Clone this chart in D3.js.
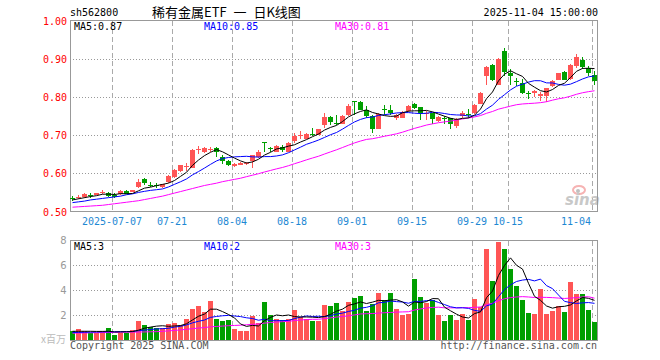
<!DOCTYPE html>
<html><head><meta charset="utf-8">
<script src="https://cdn.jsdelivr.net/npm/d3@7"></script>
<style>body{margin:0;background:#fff}svg{display:block}</style>
</head><body><svg id="c" width="660" height="360"></svg>
<script>
// ---------- data ----------
const dates=["06-26","06-27","06-30","07-01","07-02","07-03","07-04","07-07","07-08","07-09","07-10","07-11","07-14","07-15","07-16","07-17","07-18","07-21","07-22","07-23","07-24","07-25","07-28","07-29","07-30","07-31","08-01","08-04","08-05","08-06","08-07","08-08","08-11","08-12","08-13","08-14","08-15","08-18","08-19","08-20","08-21","08-22","08-25","08-26","08-27","08-28","08-29","09-01","09-02","09-03","09-04","09-05","09-08","09-09","09-10","09-11","09-12","09-15","09-16","09-17","09-18","09-19","09-22","09-23","09-24","09-25","09-26","09-29","09-30","10-09","10-10","10-13","10-14","10-15","10-16","10-17","10-20","10-21","10-22","10-23","10-24","10-27","10-28","10-29","10-30","10-31","11-03","11-04"];
const open=[0.534,0.533,0.537,0.543,0.542,0.548,0.548,0.542,0.545,0.553,0.551,0.562,0.583,0.569,0.567,0.562,0.575,0.588,0.604,0.615,0.614,0.660,0.655,0.661,0.665,0.643,0.630,0.617,0.621,0.623,0.630,0.642,0.680,0.666,0.656,0.668,0.656,0.685,0.697,0.690,0.703,0.700,0.727,0.747,0.730,0.729,0.751,0.789,0.787,0.766,0.749,0.716,0.769,0.766,0.744,0.744,0.762,0.780,0.773,0.756,0.756,0.736,0.745,0.743,0.722,0.749,0.754,0.756,0.781,0.854,0.882,0.832,0.920,0.863,0.842,0.835,0.809,0.809,0.803,0.802,0.828,0.845,0.865,0.847,0.881,0.896,0.876,0.857];
const high=[0.540,0.541,0.546,0.547,0.548,0.554,0.551,0.546,0.554,0.554,0.556,0.584,0.586,0.575,0.573,0.572,0.595,0.610,0.621,0.626,0.663,0.670,0.668,0.668,0.669,0.646,0.633,0.625,0.629,0.628,0.648,0.659,0.681,0.667,0.674,0.674,0.680,0.705,0.711,0.705,0.718,0.716,0.756,0.749,0.753,0.751,0.780,0.790,0.788,0.775,0.753,0.758,0.777,0.778,0.755,0.762,0.778,0.783,0.774,0.762,0.758,0.749,0.749,0.744,0.744,0.762,0.768,0.780,0.813,0.881,0.885,0.901,0.929,0.874,0.850,0.846,0.816,0.818,0.813,0.824,0.844,0.863,0.867,0.885,0.913,0.903,0.881,0.867];
const low=[0.525,0.531,0.535,0.535,0.541,0.545,0.537,0.535,0.543,0.544,0.549,0.560,0.569,0.562,0.560,0.560,0.573,0.586,0.602,0.604,0.613,0.649,0.653,0.655,0.643,0.623,0.617,0.615,0.620,0.620,0.614,0.639,0.656,0.654,0.655,0.656,0.655,0.678,0.689,0.688,0.696,0.699,0.718,0.725,0.727,0.728,0.749,0.753,0.765,0.744,0.705,0.714,0.753,0.753,0.740,0.743,0.760,0.768,0.740,0.740,0.729,0.733,0.729,0.714,0.718,0.744,0.743,0.754,0.780,0.830,0.841,0.830,0.854,0.830,0.828,0.806,0.794,0.799,0.788,0.787,0.825,0.844,0.844,0.845,0.876,0.872,0.854,0.830];
const close=[0.531,0.538,0.544,0.541,0.547,0.550,0.540,0.538,0.553,0.545,0.554,0.575,0.573,0.566,0.565,0.570,0.592,0.607,0.620,0.619,0.661,0.662,0.665,0.663,0.655,0.632,0.621,0.623,0.627,0.627,0.646,0.656,0.678,0.663,0.671,0.661,0.678,0.696,0.699,0.703,0.699,0.714,0.747,0.734,0.729,0.750,0.775,0.787,0.766,0.749,0.716,0.755,0.766,0.756,0.753,0.760,0.775,0.771,0.756,0.758,0.741,0.746,0.743,0.729,0.742,0.756,0.752,0.778,0.810,0.878,0.844,0.898,0.866,0.854,0.839,0.809,0.807,0.816,0.808,0.822,0.841,0.861,0.845,0.882,0.904,0.879,0.863,0.841];
const volume=[0.72,0.89,0.72,0.56,0.56,0.72,0.97,0.43,0.59,0.59,0.81,1.53,1.21,1.05,0.97,0.97,1.29,1.37,1.21,1.69,2.50,2.77,2.26,3.17,1.69,1.53,1.61,0.89,0.72,0.72,1.93,1.37,3.06,2.01,1.69,1.61,1.69,2.42,1.85,1.69,1.53,1.53,2.82,2.74,2.98,2.34,3.06,3.38,3.54,2.34,2.90,3.79,3.22,3.79,2.50,2.01,2.09,4.91,3.46,2.98,3.22,2.01,1.53,2.01,1.61,2.09,1.61,3.30,2.68,7.33,4.75,7.89,7.33,5.72,4.35,3.22,2.17,2.09,4.11,2.09,2.34,2.74,2.26,4.67,3.70,3.70,2.42,1.45];
// moving-average values for the first days (history before the window)
const ma5Head=[0.529,0.532,0.535,0.538];
const ma10Head=[0.522,0.524,0.526,0.529,0.531,0.533,0.535,0.537,0.539];
const ma30Head=[0.510,0.511,0.512,0.513,0.514,0.515,0.517,0.519,0.521,0.523,0.525,0.527,0.530,0.533,0.536,0.539,0.543,0.547,0.551,0.555,0.559,0.563,0.567,0.570,0.573,0.577,0.580,0.583,0.586];
const vma5Head=[0.70,0.70,0.70,0.70];
const vma10Head=[0.60,0.61,0.62,0.63,0.64,0.65,0.66,0.66,0.67];
const vma30Head=[0.55,0.56,0.57,0.58,0.59,0.60,0.60,0.61,0.62,0.63,0.63,0.64,0.65,0.66,0.67,0.70,0.73,0.77,0.81,0.86,0.91,0.96,1.00,1.06,1.09,1.12,1.15,1.17,1.19];
const priceTicks=[0.5,0.6,0.7,0.8,0.9,1.0];
const volTicks=[2,4,6,8];
const dateTicks=["07-07","07-21","08-04","08-18","09-01","09-15","09-29","10-15","11-04"];
const dateTickLabels=["2025-07-07","07-21","08-04","08-18","09-01","09-15","09-29","10-15","11-04"];
const priceMaLabels=["MA5:0.87","MA10:0.85","MA30:0.81"];
const volMaLabels=["MA5:3","MA10:2","MA30:3"];
const maColors=["#000000","#0000ff","#ff00ff"];

// ---------- layout ----------
const svg=d3.select("#c");
const L=70,R=598,PT=20.5,PB=211,VT=240.5,VB=340;
const mono="'DejaVu Sans Mono', monospace";
const RED="#ff5555",GREEN="#009f00";
const x=d3.scaleBand().domain(dates).range([L,R]).padding(0);
const y=d3.scaleLinear().domain([0.5,1.0]).range([PB,PT]);
const yv=d3.scaleLinear().domain([0,8]).range([VB,VT]);
const data=dates.map((d,i)=>({d,o:open[i],h:high[i],l:low[i],c:close[i],v:volume[i]}));
const col=d=>d.c>=d.o?RED:GREEN;
function ma(vals,n,head){return vals.map((v,i)=>i<n-1?head[i]:d3.mean(vals.slice(i-n+1,i+1)));}

const defs=svg.append("defs");
defs.append("clipPath").attr("id","cm").append("rect").attr("x",L).attr("y",PT).attr("width",R-L).attr("height",PB-PT+1);
defs.append("clipPath").attr("id","cv").append("rect").attr("x",L).attr("y",VT).attr("width",R-L).attr("height",VB-VT+1);

// grids
function grid(top,bot,scale,ticks){
  const g=svg.append("g");
  g.selectAll("line.h").data(ticks).join("line")
    .attr("x1",L).attr("x2",R).attr("y1",d=>Math.round(scale(d))+0.5).attr("y2",d=>Math.round(scale(d))+0.5)
    .attr("stroke","#999").attr("stroke-dasharray","1,2").attr("shape-rendering","crispEdges");
  g.selectAll("line.v").data(dateTicks).join("line")
    .attr("x1",d=>x(d)+0.5).attr("x2",d=>x(d)+0.5).attr("y1",top).attr("y2",bot)
    .attr("stroke","#aaa").attr("stroke-dasharray","5,3").attr("shape-rendering","crispEdges");
}
grid(PT,PB,y,[0.6,0.7,0.8,0.9]);
grid(VT,VB,yv,[2,4,6]);

// sina watermark
const wm=svg.append("g");
wm.append("ellipse").attr("cx",579).attr("cy",190).attr("rx",6).attr("ry",4).attr("fill","none").attr("stroke","#f6b3b3").attr("stroke-width",2);
wm.append("circle").attr("cx",578).attr("cy",191).attr("r",2).attr("fill","#c0c0c0");
wm.append("text").attr("x",565).attr("y",205).text("sina").attr("font-family","'DejaVu Sans',sans-serif")
  .attr("font-size",15).attr("font-weight","bold").attr("font-style","italic").attr("fill","#c8c8c8");

// frames
svg.append("rect").attr("x",L+0.5).attr("y",PT).attr("width",R-L-1).attr("height",PB-PT+0.5).attr("fill","none").attr("stroke","#999");
svg.append("rect").attr("x",L+0.5).attr("y",VT).attr("width",R-L-1).attr("height",VB-VT+0.5).attr("fill","none").attr("stroke","#999");

// candles
const cg=svg.append("g").attr("clip-path","url(#cm)").attr("shape-rendering","crispEdges");
cg.selectAll("line").data(data).join("line")
  .attr("x1",d=>x(d.d)+2.5).attr("x2",d=>x(d.d)+2.5).attr("y1",d=>y(d.h)).attr("y2",d=>y(d.l)).attr("stroke",col);
cg.selectAll("rect").data(data).join("rect")
  .attr("x",d=>x(d.d)).attr("width",x.bandwidth()-1)
  .attr("y",d=>y(Math.max(d.o,d.c))).attr("height",d=>Math.max(1,Math.abs(y(d.o)-y(d.c))))
  .attr("fill",col);

// volume bars
const vg=svg.append("g").attr("clip-path","url(#cv)").attr("shape-rendering","crispEdges");
vg.selectAll("rect").data(data).join("rect")
  .attr("x",d=>x(d.d)).attr("width",x.bandwidth()-1)
  .attr("y",d=>yv(d.v)).attr("height",d=>VB-yv(d.v)).attr("fill",col);

// MA lines
const cx=i=>x(dates[i])+2.5;
const pLine=d3.line().x((v,i)=>cx(i)).y(v=>y(v));
const vLine=d3.line().x((v,i)=>cx(i)).y(v=>yv(v));
[[ma(close,30,ma30Head),2],[ma(close,10,ma10Head),1],[ma(close,5,ma5Head),0]].forEach(([s,k])=>{
  cg.append("path").attr("d",pLine(s)).attr("fill","none").attr("stroke",maColors[k]).attr("stroke-width",1).attr("shape-rendering","auto");
});
[[ma(volume,30,vma30Head),2],[ma(volume,10,vma10Head),1],[ma(volume,5,vma5Head),0]].forEach(([s,k])=>{
  vg.append("path").attr("d",vLine(s)).attr("fill","none").attr("stroke",maColors[k]).attr("stroke-width",1).attr("shape-rendering","auto");
});

// texts
const t=(xx,yy,s,o={})=>svg.append("text").attr("x",xx).attr("y",yy).text(s)
  .attr("font-family",o.ff||mono).attr("font-size",o.fs||10).attr("fill",o.fill||"#000").attr("text-anchor",o.a||"start");
t(70,16,"sh562800");
t(152,17,"稀有金属ETF 一 日K线图",{ff:"'Noto Sans CJK SC',sans-serif",fs:13}).attr("word-spacing",4);
t(598,16,"2025-11-04 15:00:00",{a:"end"});
const maX=[74,204,335];
priceMaLabels.forEach((s,k)=>t(maX[k],30,s,{fill:maColors[k]}));
volMaLabels.forEach((s,k)=>t(maX[k],249.5,s,{fill:maColors[k]}));
priceTicks.forEach(v=>t(67,y(v)+4.5,v.toFixed(2),{fill:"#ff0000",a:"end"}));
volTicks.forEach(v=>t(66.5,yv(v)+3.5,String(v),{fill:"#999",a:"end",ff:"'DejaVu Sans',sans-serif"}));
t(66,343,"x百万",{fill:"#bbb",a:"end",ff:"'Noto Sans CJK SC',sans-serif",fs:10});
dateTicks.forEach((d,k)=>{
  const last=k===dateTicks.length-1;
  t(last?591:x(d),225,dateTickLabels[k],{fill:"#1e88d3",a:last?"end":"middle"});
});
t(70,349,"Copyright 2025 SINA.COM",{fill:"#555"});
t(597,349,"http://finance.sina.com.cn",{fill:"#555",a:"end"});
</script></body></html>
